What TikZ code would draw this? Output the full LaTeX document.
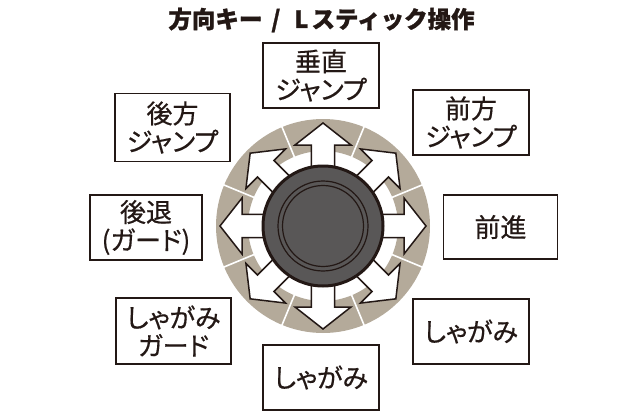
\documentclass[tikz,border=0pt]{standalone}
\usepackage{fontspec}
\usetikzlibrary{calc}
\setmainfont{Noto Sans CJK JP}[RawFeature=+palt]
\newfontfamily\boxfont{Noto Sans CJK JP}[RawFeature=+palt,FakeBold=0.5]
\newfontfamily\titlefont{Noto Sans CJK JP}[BoldFeatures={FakeBold=1.2}]
\definecolor{ink}{HTML}{231815}
\definecolor{tanring}{HTML}{B4AA9A}
\definecolor{knob}{HTML}{595757}
\begin{document}
\begin{tikzpicture}[x=1pt,y=-1pt,
  labelbox/.style={draw=ink,line width=1.8pt,fill=white,text=ink,
    font=\boxfont\fontsize{26}{28}\selectfont,align=center,inner sep=0pt},
  dirarrow/.style={draw=ink,fill=white,line width=1.5pt,line join=miter},
  sep/.style={white,line width=1.6pt}]
\useasboundingbox (0,0) rectangle (640,420);
\coordinate (c) at (323,226);
% ring
\fill[tanring,even odd rule] (c) circle[radius=107] (c) circle[radius=75];
\foreach \a in {22.5,67.5,...,337.5}
  \draw[sep] ($(c)+(\a:73)$) -- ($(c)+(\a:109)$);
% arrows
\foreach \a in {0,45,...,315}
  \draw[dirarrow,shift={(c)},rotate=\a]
    (50,-11.7) -- (81,-11.7) -- (81,-28) -- (103,0) -- (81,28) -- (81,11.7) -- (50,11.7) -- cycle;
% knob
\node[circle,fill=knob,draw=ink,line width=3pt,minimum size=120pt,inner sep=0pt] (knob) at (c) {};
\draw[ink,line width=1.2pt] (c) circle[radius=45];
\draw[ink,line width=1.2pt] (c) circle[radius=40.5];
% title
\node[text=ink,font=\titlefont\bfseries\fontsize{23.5}{24}\selectfont] (title) at (321.5,20) {方向キー\hspace{9pt}/\hspace{14pt}L\hspace{3pt}スティック操作};
% boxes
\node[labelbox,minimum width=116pt,minimum height=65pt] (up) at (321,75.5) {垂直\\ジャンプ};
\node[labelbox,minimum width=115pt,minimum height=68pt] (ul) at (172.5,127.5) {後方\\ジャンプ};
\node[labelbox,minimum width=116pt,minimum height=65pt] (ur) at (471,122.5) {前方\\ジャンプ};
\node[labelbox,minimum width=112pt,minimum height=65pt] (l) at (146,227.5) {後退\\(ガード)};
\node[labelbox,minimum width=114pt,minimum height=64pt] (r) at (500.5,227) {前進};
\node[labelbox,minimum width=115pt,minimum height=66pt] (dl) at (173.5,331) {しゃがみ\\ガード};
\node[labelbox,minimum width=116pt,minimum height=65pt] (dr) at (471,331.5) {しゃがみ};
\node[labelbox,minimum width=116pt,minimum height=65pt] (d) at (321,377.5) {しゃがみ};
\end{tikzpicture}
\end{document}
